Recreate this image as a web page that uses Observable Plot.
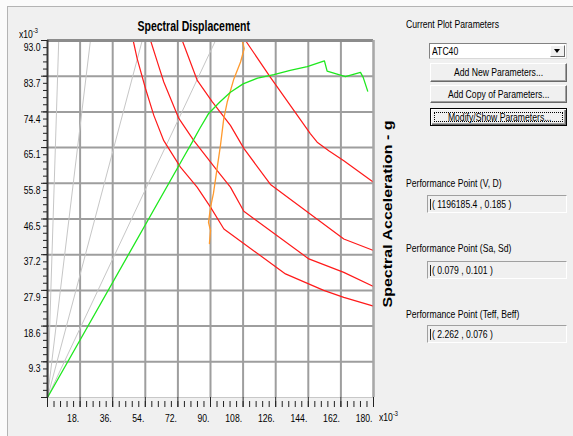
<!DOCTYPE html>
<html><head><meta charset="utf-8">
<script src="https://cdn.jsdelivr.net/npm/d3@7"></script>
<script src="https://cdn.jsdelivr.net/npm/@observablehq/plot@0.6"></script>
<style>
html,body{margin:0;padding:0;background:#fff;}
*{box-sizing:border-box;}
#wrap{position:relative;width:573px;height:436px;overflow:hidden;background:#fbfbfb;font-family:"Liberation Sans",Arial,sans-serif;color:#000;}
#bg{position:absolute;left:7px;top:6px;right:0;bottom:0;background:#f0f0f0;border-top:1px solid #b4b4b4;border-left:1px solid #b4b4b4;}
#chart{position:absolute;left:0;top:0;}
.lab{position:absolute;white-space:nowrap;font-size:11.5px;line-height:13px;transform:scaleX(0.75);transform-origin:0 0;}
.lab sup{font-size:7.5px;vertical-align:5px;line-height:0;}
.combo{position:absolute;left:429px;top:43px;width:138px;height:16px;background:#fff;border:1px solid;border-color:#828282 #d8d8d8 #d8d8d8 #828282;}
.combo .arrow{position:absolute;right:1px;top:1px;width:15px;height:12px;background:#f0f0f0;border:1px solid;border-color:#fff #696969 #696969 #fff;}
.combo .arrow:after{content:"";position:absolute;left:3px;top:3px;border-left:3.5px solid transparent;border-right:3.5px solid transparent;border-top:4px solid #000;}
.btn{position:absolute;left:430px;width:137px;background:#f0f0f0;border:1px solid;border-color:#fff #696969 #696969 #fff;box-shadow:inset -1px -1px #a0a0a0;font-size:11.5px;text-align:center;}
.btn span{display:block;transform:scaleX(0.75);transform-origin:50% 50%;white-space:nowrap;}
.btn.focus{border:1px solid #000;box-shadow:inset 1px 1px #fff,inset -1px -1px #696969,inset -2px -2px #a0a0a0;}
.btn.focus:after{content:"";position:absolute;left:3px;top:3px;right:3px;bottom:3px;border:1px dotted #000;}
.edit{position:absolute;left:427px;width:140px;height:18px;background:#f0f0f0;border:1px solid;border-color:#a0a0a0 #fff #fff #a0a0a0;}
.edit .caret{position:absolute;left:2px;top:3px;width:1px;height:11px;background:#222;}
</style>
</head><body>
<div id="wrap">
  <div id="bg"></div>
  <div id="chart"></div>
</div>
<script>
// ---- data (units: x10^-3) ----
const xTicks = [18, 36, 54, 72, 90, 108, 126, 144, 162, 180];
const xTickLabels = ["18.", "36.", "54.", "72.", "90.", "108.", "126.", "144.", "162.", "180."];
const yTicks = [9.3, 18.6, 27.9, 37.2, 46.5, 55.8, 65.1, 74.4, 83.7, 93.0];
const yTickLabels = ["9.3", "18.6", "27.9", "37.2", "46.5", "55.8", "65.1", "74.4", "83.7", "93.0"];
const chartTitle = "Spectral Displacement";
const yTitle = "Spectral Acceleration - g";

// constant-period lines: Sd reached at the top of the plot (Sa = 93)
const periodLineSd = [6.2, 23.7, 52.3, 92.8];

// capacity curve (green)
const capacity = [[0,0],[76,63.3],[80,66.6],[84,70.0],[89,74.0],[95,76.9],[101,79.5],[108,81.7],[116,83.2],[125,84.1],[134,85.2],[143.4,86.2],[152.9,87.7],[154.4,85.0],[164.5,83.6],[172.8,84.7],[174.3,83.4],[176.8,79.8]];

// demand spectra (red)
const demandA = [[47.3,93.0],[49.5,88.3],[54.1,80.5],[58.7,73.5],[64.2,66.9],[73.4,60.0],[82.6,54.8],[90.0,49.6],[97.4,43.9],[131.4,32.2],[152.5,27.9],[163.6,26.1],[180,23.8]];
const demandB = [[56.9,93.0],[60.6,87.5],[64.2,82.2],[72.5,72.7],[80.8,66.9],[93.7,59.1],[101.0,54.8],[108.4,48.5],[144.3,36.1],[163.6,32.6],[180,28.9]];
const demandC = [[74.4,93.0],[82.6,82.7],[90.9,77.1],[101.0,70.9],[108.4,64.9],[123.1,55.5],[163.6,41.3],[180,38.3]];
const demandD = [[109.3,93.0],[123.1,83.4],[145.2,68.7],[148.9,66.5],[155.3,64.3],[163.6,61.7],[180,56.1]];

// single demand / performance locus (orange)
const perfLocus = [[107.5,93.0],[108.6,90.9],[106.6,87.4],[102.9,83.0],[99.2,76.9],[97.3,72.6],[95.5,65.7],[93.3,58.6],[91.6,53.1],[90.0,49.5],[88.9,45.6],[90.0,43.5],[89.4,40.1]];

// side panel texts
const panelTitle = "Current Plot Parameters";
const comboValue = "ATC40";
const buttons = ["Add New Parameters...", "Add Copy of Parameters...", "Modify/Show Parameters..."];
const perfLabels = ["Performance Point (V, D)", "Performance Point (Sa, Sd)", "Performance Point (Teff, Beff)"];
const perfValues = ["( 1196185.4 , 0.185 )", "( 0.079 , 0.101 )", "( 2.262 , 0.076 )"];
const scaleNote = ["x10", "-3"];

// ---- chart ----
const xMinor = d3.range(0, 180.001, 3.6);
const yMinor = d3.range(0, 93.001, 1.86);
const px = d => d[0], py = d => d[1];
const gridStyle = {stroke: "#9e9e9e", strokeOpacity: 1, strokeWidth: 2};

const chart = Plot.plot({
  width: 400, height: 436,
  marginLeft: 47, marginRight: 27, marginTop: 40, marginBottom: 39,
  x: {domain: [0, 180]},
  y: {domain: [0, 93]},
  style: {background: "transparent", overflow: "visible", fontFamily: "'Liberation Sans', Arial, sans-serif", fontSize: "11.5px", color: "#000"},
  marks: [
    Plot.frame({fill: "#fff", stroke: "#c8c8c8"}),
    Plot.gridX(xTicks, gridStyle),
    Plot.gridY(yTicks, gridStyle),
    Plot.link(periodLineSd, {x1: 0, y1: 0, x2: d => d, y2: 93, stroke: "#c6c6c6", strokeWidth: 1}),
    Plot.line(demandA, {x: px, y: py, stroke: "#ff1a1a", strokeWidth: 1.2}),
    Plot.line(demandB, {x: px, y: py, stroke: "#ff1a1a", strokeWidth: 1.2}),
    Plot.line(demandC, {x: px, y: py, stroke: "#ff1a1a", strokeWidth: 1.2}),
    Plot.line(demandD, {x: px, y: py, stroke: "#ff1a1a", strokeWidth: 1.2}),
    Plot.line(perfLocus, {x: px, y: py, stroke: "#ff9a2e", strokeWidth: 1.3}),
    Plot.line(capacity, {x: px, y: py, stroke: "#1ee81e", strokeWidth: 1.3}),
    Plot.ruleY([93], {stroke: "#8c8c8c", strokeWidth: 3}),
    Plot.ruleX([180], {stroke: "#a8a8a8", strokeWidth: 2}),
    Plot.ruleX([0], {stroke: "#3a3a3a", strokeWidth: 2}),
    Plot.axisY(yMinor, {tickSize: 4, fill: "none", stroke: "#222", label: null}),
    Plot.axisY([0, ...yTicks], {tickSize: 6, fill: "none", stroke: "#222", label: null}),
    Plot.axisY(yTicks, {tickSize: 0, tickPadding: 7, stroke: "none", dy: 7, textAnchor: "end",
      tickFormat: d => yTickLabels[yTicks.indexOf(d)], label: null}),
    Plot.axisX(xMinor, {tickSize: 6, dy: 4, fill: "none", stroke: "#222", label: null}),
    Plot.axisX([0, ...xTicks], {tickSize: 10, fill: "none", stroke: "#222", label: null}),
    Plot.axisX(xTicks, {tickSize: 0, tickPadding: 16, stroke: "none", textAnchor: "end", dx: -1,
      tickFormat: d => xTickLabels[xTicks.indexOf(d)], label: null}),
    Plot.text([chartTitle], {text: d => d, frameAnchor: "top-left", dx: 90, dy: -10, lineAnchor: "bottom",
      textAnchor: "start", fontWeight: "bold", fontSize: 14}),
    Plot.text([yTitle], {text: d => d, frameAnchor: "right", dx: 15, dy: -5, rotate: -90,
      textAnchor: "middle", lineAnchor: "middle", fontWeight: "bold", fontSize: 16})
  ]
});
// the source screenshot is horizontally condensed: condense glyphs accordingly
chart.querySelectorAll("text").forEach(t => {
  const tr = t.getAttribute("transform");
  if (tr && tr.includes("rotate")) t.setAttribute("transform", tr + " scale(1,0.76)");
  else if (tr) t.setAttribute("transform", tr + " scale(0.75,1)");
  else {
    const x = +t.getAttribute("x") || 0, y = +t.getAttribute("y") || 0;
    t.setAttribute("transform", `translate(${x},${y}) scale(0.75,1) translate(${-x},${-y})`);
  }
});
document.getElementById("chart").appendChild(chart);

// ---- side panel & exponent notes ----
const wrap = document.getElementById("wrap");
function add(html) { wrap.insertAdjacentHTML("beforeend", html); }
add(`<div class="lab" style="left:19px;top:28px">${scaleNote[0]}<sup>${scaleNote[1]}</sup></div>`);
add(`<div class="lab" style="left:379px;top:411px">${scaleNote[0]}<sup>${scaleNote[1]}</sup></div>`);
add(`<div class="lab" style="left:406px;top:18px">${panelTitle}</div>`);
add(`<div class="combo"><div class="lab" style="left:2px;top:1px">${comboValue}</div><div class="arrow"></div></div>`);
const btnTops = [63, 85, 108], btnH = [19, 18, 18];
buttons.forEach((b, i) => add(`<div class="btn${i === 2 ? " focus" : ""}" style="top:${btnTops[i]}px;height:${btnH[i]}px"><span style="line-height:${btnH[i] - 2}px">${b}</span></div>`));
const labTops = [177, 242, 308], boxTops = [195, 261, 325];
perfLabels.forEach((l, i) => {
  add(`<div class="lab" style="left:406px;top:${labTops[i]}px">${l}</div>`);
  add(`<div class="edit" style="top:${boxTops[i]}px"><div class="caret"></div><div class="lab" style="left:4px;top:2px">${perfValues[i]}</div></div>`);
});
</script>
</body></html>
